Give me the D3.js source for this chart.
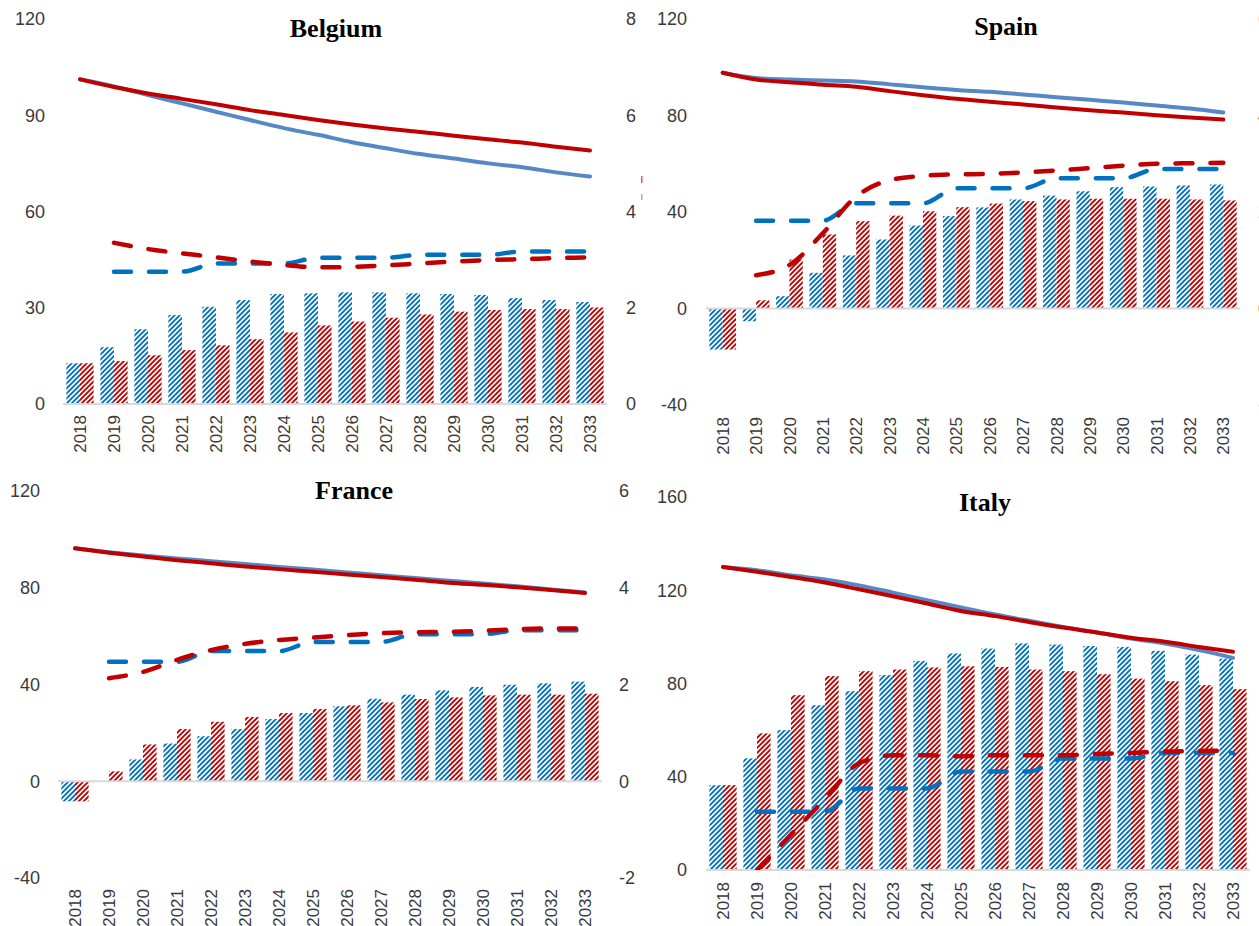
<!DOCTYPE html>
<html>
<head>
<meta charset="utf-8">
<script src="https://cdn.jsdelivr.net/npm/d3@7"></script>
<style>
  body { margin: 0; background: #fff; overflow: hidden; }
  svg { display: block; }
  .tick-label { font-family: "Liberation Sans", Arial, sans-serif; font-size: 18px; fill: #3a3a3a; }
  .year-label { font-family: "Liberation Sans", Arial, sans-serif; font-size: 17px; fill: #3a3a3a; }
  .title { font-family: "Liberation Serif", "Times New Roman", serif; font-weight: bold; font-size: 26px; fill: #000; }
</style>
</head>
<body>
<svg id="chart" width="1259" height="926"></svg>
<script>
const years = ['2018', '2019', '2020', '2021', '2022', '2023', '2024', '2025',
  '2026', '2027', '2028', '2029', '2030', '2031', '2032', '2033']

// Belgium
const beSolidBlue = [101.2, 99.0, 96.3, 93.7, 91.1, 88.5, 86.0, 83.9, 81.6, 79.7, 77.9, 76.5, 75.0, 73.8, 72.2, 70.9]
const beSolidRed = [101.2, 98.8, 96.8, 95.1, 93.4, 91.6, 90.1, 88.5, 87.1, 85.9, 84.8, 83.6, 82.5, 81.5, 80.2, 79.0]
const beBarBlue = [12.7, 17.7, 23.3, 27.7, 30.3, 32.4, 34.3, 34.5, 34.8, 34.8, 34.5, 34.3, 34.0, 33.0, 32.4, 31.8]
const beBarRed = [12.7, 13.4, 15.2, 16.8, 18.3, 20.2, 22.3, 24.5, 25.7, 26.9, 27.9, 28.8, 29.3, 29.6, 29.6, 30.1]
const beDashBlue = [null, 2.75, 2.75, 2.75, 2.92, 2.92, 2.92, 3.04, 3.04, 3.04, 3.10, 3.10, 3.10, 3.17, 3.17, 3.17]
const beDashRed = [null, 3.35, 3.22, 3.13, 3.05, 2.96, 2.89, 2.84, 2.85, 2.88, 2.92, 2.96, 2.99, 3.01, 3.03, 3.05]

// Spain
const esSolidBlue = [97.7, 95.5, 94.9, 94.5, 94.1, 92.9, 91.7, 90.6, 89.8, 88.7, 87.6, 86.5, 85.4, 84.1, 82.9, 81.2]
const esSolidRed = [97.7, 94.9, 93.8, 92.7, 91.9, 90.1, 88.4, 86.9, 85.7, 84.6, 83.3, 82.2, 81.2, 80.1, 79.2, 78.3]
const esBarBlue = [-17.0, -5.3, 5.1, 14.8, 22.0, 28.6, 34.4, 38.3, 41.9, 45.2, 46.8, 48.6, 50.3, 50.6, 51.0, 51.4]
const esBarRed = [-17.0, 3.4, 20.3, 30.7, 36.2, 38.5, 40.3, 42.0, 43.5, 44.5, 45.2, 45.5, 45.5, 45.5, 45.2, 44.8]
const esDashBlue = [null, 1.82, 1.82, 1.82, 2.18, 2.18, 2.18, 2.49, 2.49, 2.49, 2.70, 2.70, 2.70, 2.89, 2.89, 2.89]
const esDashRed = [null, 0.69, 0.90, 1.56, 2.32, 2.66, 2.75, 2.78, 2.79, 2.82, 2.86, 2.91, 2.96, 3.00, 3.01, 3.02]

// France
const frSolidBlue = [96.3, 94.7, 93.3, 92.1, 91.0, 89.8, 88.6, 87.5, 86.3, 85.2, 84.0, 82.9, 81.8, 80.6, 79.3, 78.0]
const frSolidRed = [96.3, 94.5, 92.9, 91.4, 90.1, 88.8, 87.7, 86.6, 85.5, 84.4, 83.3, 82.1, 81.2, 80.2, 79.1, 77.8]
const frBarBlue = [-8.3, 0, 9.0, 15.6, 18.6, 21.6, 25.7, 28.2, 31.0, 34.1, 35.8, 37.6, 39.0, 39.9, 40.5, 41.2]
const frBarRed = [-8.3, 4.1, 15.2, 21.6, 24.6, 26.6, 28.2, 29.9, 31.4, 32.6, 34.0, 34.7, 35.5, 35.8, 35.8, 36.2]
const frDashBlue = [null, 2.47, 2.47, 2.47, 2.69, 2.69, 2.69, 2.88, 2.88, 2.88, 3.04, 3.04, 3.04, 3.12, 3.12, 3.12]
const frDashRed = [null, 2.13, 2.26, 2.51, 2.71, 2.84, 2.92, 2.97, 3.02, 3.06, 3.08, 3.09, 3.11, 3.14, 3.16, 3.16]

// Italy
const itSolidBlue = [130.0, 128.6, 126.4, 124.6, 122.1, 119.0, 115.7, 112.6, 109.6, 106.9, 104.3, 101.9, 99.3, 97.1, 94.3, 91.0]
const itSolidRed = [130.0, 127.9, 125.7, 123.3, 120.4, 117.4, 114.3, 111.1, 108.9, 106.4, 104.0, 101.9, 99.6, 97.9, 95.7, 93.6]
const itBarBlue = [36.4, 47.9, 60.0, 70.7, 76.7, 83.6, 89.7, 92.9, 95.0, 97.2, 96.7, 96.1, 95.7, 94.0, 92.4, 90.7]
const itBarRed = [36.4, 58.6, 75.0, 83.2, 85.3, 86.0, 86.9, 87.4, 87.1, 86.0, 85.3, 84.0, 82.1, 81.0, 79.3, 77.6]
const itDashBlue = [null, -0.75, -0.75, -0.75, -0.25, -0.25, -0.25, 0.11, 0.11, 0.11, 0.39, 0.39, 0.39, 0.51, 0.51, 0.51]
const itDashRed = [null, -2.0, -1.24, -0.48, 0.29, 0.46, 0.46, 0.44, 0.46, 0.46, 0.46, 0.49, 0.51, 0.54, 0.55, 0.56]

const BLUE = '#0070C0', RED = '#C00000', STEEL = '#5588C4'

const panels = [
  {name: 'Belgium', x: [63, 607], y: [404, 19], left: [0, 120], leftTicks: [0, 30, 60, 90, 120],
    right: [0, 8], rightTicks: [0, 2, 4, 6, 8], leftX: 45, rightX: 626, title: [336, 37], yearTop: 415,
    solidBlue: beSolidBlue, solidRed: beSolidRed, barBlue: beBarBlue, barRed: beBarRed, dashBlue: beDashBlue, dashRed: beDashRed},
  {name: 'Spain', x: [706, 1240], y: [405, 19], left: [-40, 120], leftTicks: [-40, 0, 40, 80, 120],
    right: [-2, 6], rightTicks: [-2, 0, 2, 4, 6], leftX: 687, rightX: 1258, title: [1006, 35], yearTop: 417,
    solidBlue: esSolidBlue, solidRed: esSolidRed, barBlue: esBarBlue, barRed: esBarRed, dashBlue: esDashBlue, dashRed: esDashRed},
  {name: 'France', x: [58, 602], y: [878, 491], left: [-40, 120], leftTicks: [-40, 0, 40, 80, 120],
    right: [-2, 6], rightTicks: [-2, 0, 2, 4, 6], leftX: 40, rightX: 619, title: [354, 499], yearTop: 889,
    solidBlue: frSolidBlue, solidRed: frSolidRed, barBlue: frBarBlue, barRed: frBarRed, dashBlue: frDashBlue, dashRed: frDashRed},
  {name: 'Italy', x: [706, 1250], y: [870, 497], left: [0, 160], leftTicks: [0, 40, 80, 120, 160],
    right: [-2, 6], rightTicks: [], leftX: 687, rightX: 1270, title: [985, 511], yearTop: 882,
    solidBlue: itSolidBlue, solidRed: itSolidRed, barBlue: itBarBlue, barRed: itBarRed, dashBlue: itDashBlue, dashRed: itDashRed}
]

const svg = d3.select('#chart')
const defs = svg.append('defs')

// wide upward diagonal hatch, like the Excel fill
function hatch(id, color) {
  const p = defs.append('pattern')
    .attr('id', id)
    .attr('patternUnits', 'userSpaceOnUse')
    .attr('width', 5).attr('height', 5)
  p.append('rect').attr('width', 5).attr('height', 5).attr('fill', '#fff')
  p.append('path')
    .attr('d', 'M-1,1 l2,-2 M0,5 l5,-5 M4,6 l2,-2')
    .attr('stroke', color)
    .attr('stroke-width', 1.9)
}
hatch('hatchBlue', BLUE)
hatch('hatchRed', RED)

panels.forEach((p, pi) => {
  const x = d3.scaleBand().domain(years).range(p.x).paddingInner(0.2).paddingOuter(0.1)
  const yl = d3.scaleLinear().domain(p.left).range(p.y)
  const yr = d3.scaleLinear().domain(p.right).range(p.y)
  const g = svg.append('g')
  const bw = x.bandwidth() / 2

  defs.append('clipPath').attr('id', 'clip' + pi)
    .append('rect')
    .attr('x', p.x[0]).attr('y', p.y[1])
    .attr('width', p.x[1] - p.x[0]).attr('height', p.y[0] - p.y[1])

  // tick labels
  g.selectAll('.ltick').data(p.leftTicks).enter().append('text')
    .attr('class', 'tick-label')
    .attr('x', p.leftX).attr('y', d => yl(d))
    .attr('dy', '0.35em')
    .attr('text-anchor', 'end')
    .text(d => d)
  g.selectAll('.rtick').data(p.rightTicks).enter().append('text')
    .attr('class', 'tick-label')
    .attr('x', p.rightX).attr('y', d => yr(d))
    .attr('dy', '0.35em')
    .text(d => d)

  // bars
  const bars = g.append('g')
  bars.selectAll('.bb').data(p.barBlue).enter().append('rect')
    .attr('x', (d, i) => x(years[i]))
    .attr('y', d => yl(Math.max(d, 0)))
    .attr('width', bw)
    .attr('height', d => Math.abs(yl(d) - yl(0)))
    .attr('fill', 'url(#hatchBlue)')
  bars.selectAll('.br').data(p.barRed).enter().append('rect')
    .attr('x', (d, i) => x(years[i]) + bw)
    .attr('y', d => yl(Math.max(d, 0)))
    .attr('width', bw)
    .attr('height', d => Math.abs(yl(d) - yl(0)))
    .attr('fill', 'url(#hatchRed)')

  // zero line
  g.append('line')
    .attr('x1', p.x[0]).attr('x2', p.x[1])
    .attr('y1', yl(0)).attr('y2', yl(0))
    .attr('stroke', '#D9D9D9').attr('stroke-width', 2)

  // year labels
  g.selectAll('.yr').data(years).enter().append('text')
    .attr('class', 'year-label')
    .attr('transform', d => `translate(${x(d) + x.bandwidth() / 2},${p.yearTop}) rotate(-90)`)
    .attr('dy', '0.36em')
    .attr('text-anchor', 'end')
    .text(d => d)

  const cx = i => x(years[i]) + x.bandwidth() / 2
  const lines = g.append('g').attr('clip-path', `url(#clip${pi})`)

  const dashLine = d3.line()
    .defined(d => d != null)
    .x((d, i) => cx(i)).y(d => yr(d))
    .curve(d3.curveMonotoneX)
  const solidLine = d3.line()
    .x((d, i) => cx(i)).y(d => yl(d))
    .curve(d3.curveMonotoneX)

  lines.append('path').attr('d', dashLine(p.dashBlue))
    .attr('fill', 'none').attr('stroke', BLUE).attr('stroke-width', 4.5)
    .attr('stroke-dasharray', '17,18').attr('stroke-linecap', 'round')
  lines.append('path').attr('d', dashLine(p.dashRed))
    .attr('fill', 'none').attr('stroke', RED).attr('stroke-width', 4.5)
    .attr('stroke-dasharray', '17,18').attr('stroke-linecap', 'round')
  lines.append('path').attr('d', solidLine(p.solidBlue))
    .attr('fill', 'none').attr('stroke', STEEL).attr('stroke-width', 4)
    .attr('stroke-linecap', 'round')
  lines.append('path').attr('d', solidLine(p.solidRed))
    .attr('fill', 'none').attr('stroke', RED).attr('stroke-width', 4)
    .attr('stroke-linecap', 'round')

  g.append('text')
    .attr('class', 'title')
    .attr('x', p.title[0]).attr('y', p.title[1])
    .attr('text-anchor', 'middle')
    .text(p.name)
})

// small cut-off marks between the top panels
svg.append('rect').attr('x', 641).attr('y', 176).attr('width', 1.5).attr('height', 7).attr('fill', '#E06060')
svg.append('rect').attr('x', 641).attr('y', 194).attr('width', 1.5).attr('height', 6).attr('fill', '#B0B0B0')
</script>
</body>
</html>
